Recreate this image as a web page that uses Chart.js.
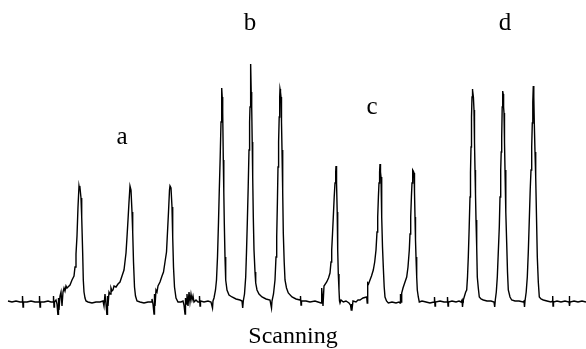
<!DOCTYPE html>
<html>
<head>
<meta charset="utf-8">
<script src="https://cdn.jsdelivr.net/npm/chart.js@4.4.0/dist/chart.umd.min.js"></script>
<style>
	body { margin: 0; background: #fff; }
	#wrap { width: 586px; height: 349px; position: relative; }
</style>
</head>
<body>
<div id="wrap"><canvas id="chart"></canvas></div>
<script>
// scan position and detector signal
const scanPos = [
	8, 12, 16, 20, 22, 22.5, 23, 23.5, 27, 31, 35, 39, 39.5, 40, 40.5, 44, 48, 51, 53, 53.5, 54, 54.5,
	56, 57, 58, 58.5, 59, 60, 61, 62, 63, 64, 65, 66, 67, 68, 70, 72, 74, 75, 76, 77, 78, 79, 79.5,
	80, 81, 81.7, 82.7, 83.3, 84, 85, 86, 88,
	92, 96, 100, 103, 104, 105, 106, 107, 107.5, 108, 109, 110, 111, 112, 113, 114, 116, 118, 120, 122,
	124, 126, 127, 128, 129, 130, 131, 132, 132.7, 133.5, 134.5, 135.5, 137, 140, 144, 148, 151, 152,
	153, 154, 154.5, 155, 156, 157, 158, 160, 162, 163.5, 165, 166.5, 167.5, 168.5, 169.5, 170, 171, 172,
	172.7, 173.5, 174.5, 176, 178, 181, 183, 184, 185, 185.5, 186, 187, 188, 189, 190, 191, 192, 193,
	194, 196, 198,
	199, 199.5, 200, 200.5, 204, 208, 211, 212.5, 213, 214, 215.5, 216.5, 217.5, 218.5, 219.3, 220.2,
	221, 221.7, 222.2, 222.7, 223.3, 223.8, 224.3, 225, 225.7, 227, 229, 232, 236, 240, 242, 242.7,
	243.3, 244.5, 245.7, 246.5, 247.3, 248.2, 249, 249.6, 250, 250.5, 250.8, 251.2, 251.7, 252.2, 252.7,
	253.3, 254, 255, 255.7, 257, 259, 262, 266, 270, 271.5, 272, 273.5, 275, 276, 276.7, 277.4, 278,
	278.6, 279.2, 279.7, 280, 280.5, 281, 281.5, 282, 282.7, 283.3, 284.2, 285, 286.5, 288.3, 292, 296,
	300, 300.5, 301, 301.5, 306, 310, 315, 318, 321, 321.7, 322.3, 323,
	324, 326.7, 328.5, 330, 331, 331.7, 332.5, 333.3, 334.2, 335, 335.7, 336, 336.4, 336.7, 337.2,
	337.7, 338.3, 339, 339.5, 340, 341, 343.3, 346, 349, 350.5, 351.2, 351.7, 352.3, 353, 356, 358, 360,
	363, 366.7, 367.2, 367.7, 368.5, 370, 371.5, 373.3, 374.7, 376, 377, 377.7, 378.4, 379, 379.6, 380,
	380.5, 381, 381.7, 382.5, 383.3, 384.2, 385, 386.5, 388.3, 392, 396, 399, 400, 400.5, 401, 401.7,
	403, 405, 406.7, 408, 409.3, 410, 410.7, 411.4, 412, 412.7, 413.3, 414, 414.5, 415, 415.5, 416,
	416.7, 417.3, 418.3, 419.3, 422, 426, 430, 434, 434.5, 435, 435.5, 440, 444, 447, 447.5, 448, 448.5,
	452, 456, 459, 461, 462, 462.5, 463, 463.3,
	464.5, 465.7, 466.7, 467.5, 468.3, 469.2, 470, 470.5, 471, 471.5, 472, 472.3, 472.8, 473.4, 474,
	474.5, 475, 475.5, 476, 476.7, 477.3, 478.3, 479.3, 481, 483.3, 487, 491, 494, 494.7, 495.3, 496.3,
	497.3, 498.3, 499.3, 500, 500.7, 501.2, 501.7, 502.2, 502.7, 503.2, 503.6, 504, 504.5, 505, 505.8,
	506.7, 507.5, 508.3, 510, 511.7, 515, 519, 523, 524, 524.5, 525, 526.2, 527.3, 528.3, 529.3, 530.2,
	531, 531.7, 532.3, 532.8, 533.3, 533.8, 534.3, 535, 535.7, 536.5, 537.3, 538.3, 539.3, 541, 543.3,
	547, 551, 552.5, 552.7, 553, 553.5, 557, 561, 565, 569, 569.3, 569.7, 570, 574, 578, 582, 586
];
const signal = [
	1, 0, 1, 0, 0, 6, -5, 0, 0, 1, 0, 0, 6, -5, 0, 0, 1, 0, 0, 6, -5, 0,
	2, -2, -14, 4, -8, 6, 10, -4, 10, 14, 11, 16, 14, 15, 17, 22, 26, 35, 48, 66, 95, 116, 113,
	114, 104, 85, 48, 22, 10, 4, 1, 0,
	-1, 0, 0, 1, -4, 8, -2, -14, 6, -4, 10, 8, 14, 11, 12, 16, 15, 18, 20, 26,
	32, 49, 65, 82, 100, 116, 112, 90, 70, 40, 15, 6, 1, 0, -1, 0, 0, 3,
	-2, -12, 8, -4, 12, 10, 16, 20, 26, 30, 40, 50, 70, 90, 112, 116, 114, 95,
	65, 35, 15, 4, 0, 0, 1, -3, -12, 4, -2, 8, -4, 10, 0, 8, 2, 6,
	0, 2, 0,
	0, 6, -4, 1, 0, 1, 0, -6, 1, 4, 12, 22, 45, 80, 112, 145,
	180, 214, 205, 190, 142, 110, 79, 45, 22, 12, 7, 5, 3, 2, 1, -6,
	1, 8, 25, 50, 79, 115, 152, 180, 195, 225, 238, 210, 195, 160, 125,
	85, 52, 30, 19, 12, 8, 5, 3, 2, -6, 1, 8, 22, 45, 65, 100, 135,
	160, 185, 205, 213, 210, 205, 180, 152, 110, 69, 40, 22, 14, 9, 5, 3,
	2, 6, -3, 1, 1, 0, 1, 0, -1, 14, 6, -4,
	16, 20, 24, 29, 40, 52, 68, 85, 105, 119, 130, 136, 130, 119, 90,
	52, 28, 12, 1, -1, 2, 0, 1, -1, -3, -8, -2, -5, 1, 0, 2, 2,
	4, 5, -1, 19, 18, 22, 26, 32, 40, 52, 70, 85, 105, 119, 130, 138,
	130, 125, 85, 55, 35, 15, 5, 1, -1, 0, -1, 0, -1, 8, 0, 9,
	14, 20, 25, 35, 52, 68, 85, 105, 119, 132, 131, 129, 110, 85, 62, 45,
	25, 12, 5, 0, 1, 0, -1, 0, 5, -4, 0, 1, 0, 0, 5, -4, 0,
	1, 0, 1, 0, 2, -5, 0, 2,
	6, 10, 12, 25, 45, 75, 105, 130, 155, 185, 205, 213, 212, 205, 192,
	160, 132, 108, 82, 55, 25, 14, 5, 3, 2, 1, 1, 0, -5, 2, 10,
	25, 50, 75, 105, 132, 150, 165, 195, 211, 208, 195, 189, 160, 132, 90,
	59, 30, 12, 5, 2, 1, 1, 0, 1, -5, 1, 10, 25, 50, 82, 112,
	132, 155, 179, 200, 216, 205, 179, 150, 125, 85, 45, 20, 5, 3, 2,
	1, 0, 1, 6, -4, 0, 1, 0, 1, 0, 6, -4, 0, 1, 0, 1, 0
];

// peak group labels
const groupNames = ['a', 'b', 'c', 'd'];
const groupPos = [122, 250, 372, 505];
const groupLevel = [158, 272, 188, 272];

const serif = "'Liberation Serif', 'Times New Roman', serif";

const groupLabels = {
	id: 'groupLabels',
	afterDatasetsDraw(chart) {
		const ctx = chart.ctx;
		const xs = chart.scales.x, ys = chart.scales.y;
		ctx.save();
		ctx.fillStyle = '#000';
		ctx.font = '25px ' + serif;
		ctx.textAlign = 'center';
		ctx.textBaseline = 'alphabetic';
		groupNames.forEach((t, i) => {
			ctx.fillText(t, xs.getPixelForValue(groupPos[i]), ys.getPixelForValue(groupLevel[i]));
		});
		ctx.restore();
	}
};

new Chart(document.getElementById('chart'), {
	type: 'line',
	data: {
		datasets: [{
			data: scanPos.map((x, i) => ({ x: x, y: signal[i] })),
			borderColor: '#000',
			borderWidth: 1.4,
			pointRadius: 0,
			tension: 0,
			fill: false
		}]
	},
	options: {
		responsive: true,
		maintainAspectRatio: false,
		animation: false,
		layout: { padding: 0 },
		plugins: {
			legend: { display: false },
			tooltip: { enabled: false }
		},
		scales: {
			x: {
				type: 'linear',
				min: 0,
				max: 586,
				grid: { display: false, drawTicks: false, tickLength: 0 },
				border: { display: false },
				ticks: { display: false },
				title: {
					display: true,
					text: 'Scanning',
					color: '#000',
					font: { family: serif, size: 24, lineHeight: 1 },
					padding: { top: 10, bottom: 0 }
				}
			},
			y: {
				display: false,
				min: -13,
				max: 302
			}
		}
	},
	plugins: [groupLabels]
});
</script>
</body>
</html>
